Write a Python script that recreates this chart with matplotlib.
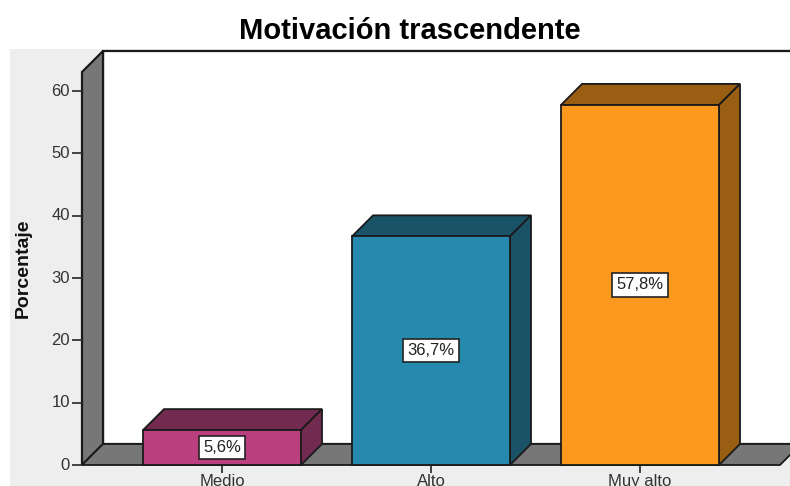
import matplotlib
matplotlib.use("Agg")
import matplotlib.pyplot as plt
from matplotlib.patches import Polygon, Rectangle

categories = ["Medio", "Alto", "Muy alto"]
values = [5.6, 36.7, 57.8]
labels = ["5,6%", "36,7%", "57,8%"]
y_ticks = [0, 10, 20, 30, 40, 50, 60]
front_colors = ["#BA3F7F", "#268AAE", "#FB991E"]
side_colors = ["#732A50", "#1A5367", "#9A5E12"]

W, H = 790, 486
PX_X = 209.0    # pixels per category
PX_Y = 6.23     # pixels per percent
X0 = 222.0      # pixel of first category
Y0 = 465.0      # pixel of value 0
DX = 21 / PX_X  # depth of the 3d effect
DY = 21 / PX_Y
BAR_W = 158 / PX_X
EDGE = "#1a1a1a"

plt.rcParams["font.family"] = ["Liberation Sans", "DejaVu Sans"]

fig = plt.figure(figsize=(W / 100, H / 100), dpi=100, facecolor="white")
ax = fig.add_axes([0, 0, 1, 1])
ax.set_xlim(-X0 / PX_X, (W - X0) / PX_X)
ax.set_ylim(-(H - Y0) / PX_Y, Y0 / PX_Y)
ax.axis("off")

x_left = (82 - X0) / PX_X
x_right = (780 - X0) / PX_X
y_top = (Y0 - 72) / PX_Y
x_end = (W + 5 - X0) / PX_X


def poly(pts, fc, z, lw=1.3):
    ax.add_patch(Polygon(pts, closed=True, facecolor=fc, edgecolor=EDGE, linewidth=lw, zorder=z))


# chart area background
ax.add_patch(Rectangle((-X0 / PX_X + 10 / PX_X, -(H - Y0) / PX_Y), (W - 10) / PX_X, (H - 49) / PX_Y,
                       facecolor="#EEEEEE", edgecolor="none", zorder=0))

# back wall, side wall, floor
poly([(x_left + DX, DY), (x_end, DY), (x_end, y_top + DY), (x_left + DX, y_top + DY)], "white", 1, 1.6)
poly([(x_left, 0), (x_left + DX, DY), (x_left + DX, y_top + DY), (x_left, y_top)], "#777777", 2, 1.6)
poly([(x_left, 0), (x_left + DX, DY), (x_right + DX, DY), (x_right, 0)], "#777777", 2)

# y axis ticks
for t in y_ticks:
    ax.plot([x_left - 10 / PX_X, x_left], [t, t], color="#333333", lw=1.3, zorder=3, solid_capstyle="butt")
    ax.text(x_left - 12 / PX_X, t, str(t), ha="right", va="center", fontsize=12, color="#333333")

# bars
for i, v in enumerate(values):
    l = i - BAR_W / 2
    r = i + BAR_W / 2
    poly([(l, v), (l + DX, v + DY), (r + DX, v + DY), (r, v)], side_colors[i], 4)
    poly([(r, 0), (r + DX, DY), (r + DX, v + DY), (r, v)], side_colors[i], 4)
    ax.bar(i, v, width=BAR_W, color=front_colors[i], edgecolor=EDGE, linewidth=1.3, zorder=5)
    ax.text(i, v / 2, labels[i], ha="center", va="center", fontsize=12, color="#222222", zorder=6,
            bbox=dict(boxstyle="square,pad=0.25", facecolor="white", edgecolor="#222222", linewidth=1.2))
    ax.plot([i, i], [0, -8 / PX_Y], color="#333333", lw=1.3, zorder=3, solid_capstyle="butt")
    ax.text(i, (Y0 - 481) / PX_Y, categories[i], ha="center", va="center", fontsize=12, color="#333333")

ax.text((410 - X0) / PX_X, (Y0 - 31) / PX_Y, "Motivación trascendente", ha="center", va="center",
        fontsize=21, fontweight="bold", color="black")
ax.text((23 - X0) / PX_X, (Y0 - 268) / PX_Y, "Porcentaje", ha="center", va="center", rotation=90,
        fontsize=14, fontweight="bold", color="#111111")

fig.savefig("out.png", dpi=100)
